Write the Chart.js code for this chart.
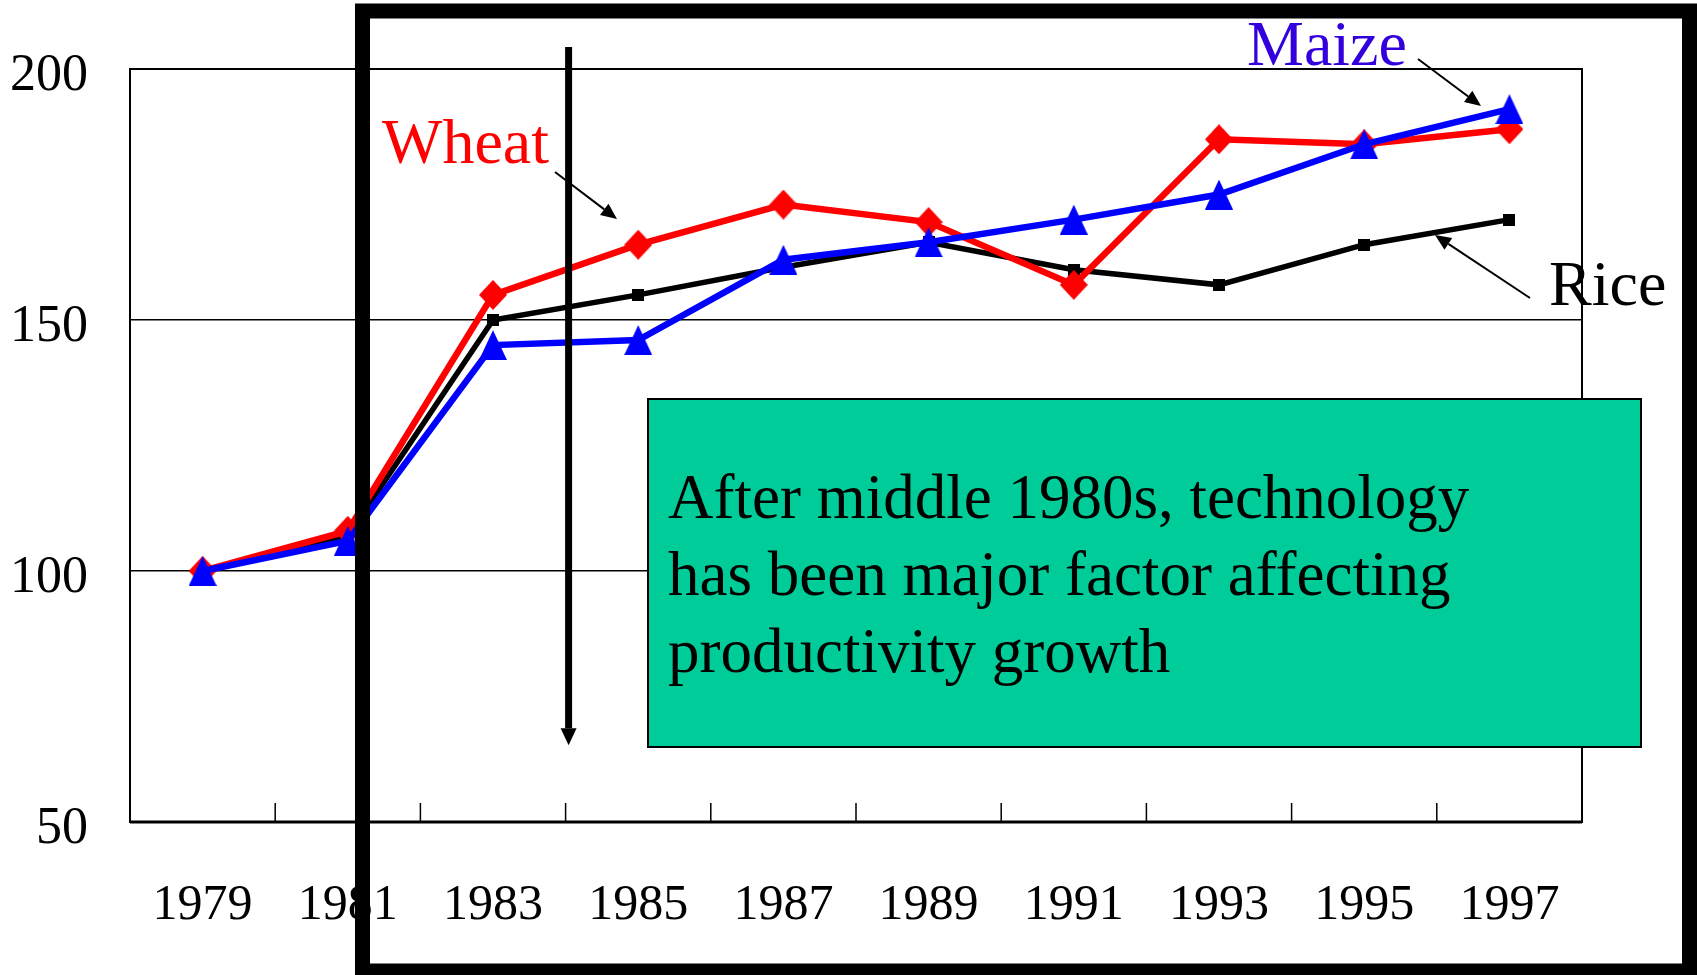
<!DOCTYPE html>
<html>
<head>
<meta charset="utf-8">
<title>Wheat, Rice, Maize productivity</title>
<script src="https://cdn.jsdelivr.net/npm/chart.js@4/dist/chart.umd.min.js"></script>
<style>
  html, body { margin: 0; padding: 0; background: #fff; }
  canvas { display: block; }
</style>
</head>
<body>
<canvas id="chart" width="1697" height="975"></canvas>
<script>
// index, 1979 = 100
const years = ['1979', '1981', '1983', '1985', '1987', '1989', '1991', '1993', '1995', '1997'];
const wheat = [100, 108, 155, 165, 173, 169.5, 157, 186, 185, 188];
const rice = [100, 107, 150, 155, 160.5, 165.5, 160, 157, 165, 170];
const maize = [100, 106, 145, 146, 162, 165.5, 170, 175, 185, 192];
const yTicks = [50, 100, 150, 200];

const serif = "'Liberation Serif', 'Times New Roman', serif";

// small canvases used as point markers, so the shapes are centred on the point
function marker(w, h, color, shape) {
    const c = document.createElement('canvas');
    c.width = w;
    c.height = h;
    const g = c.getContext('2d');
    g.fillStyle = color;
    g.beginPath();
    shape(g, w, h);
    g.fill();
    return c;
}
const triangle = marker(28, 30, '#0000ff', (g, w, h) => {
    g.moveTo(w / 2, 0); g.lineTo(w, h); g.lineTo(0, h); g.closePath();
});
const diamond = marker(28, 30, '#ff0000', (g, w, h) => {
    g.moveTo(w / 2, 0); g.lineTo(w, h / 2); g.lineTo(w / 2, h); g.lineTo(0, h / 2); g.closePath();
});
const square = marker(12, 12, '#000000', (g, w, h) => {
    g.rect(0, 0, w, h);
});

function arrow(ctx, x1, y1, x2, y2, lw, headLen, headHalf) {
    const a = Math.atan2(y2 - y1, x2 - x1);
    const bx = x2 - Math.cos(a) * headLen;
    const by = y2 - Math.sin(a) * headLen;
    ctx.save();
    ctx.strokeStyle = '#000';
    ctx.fillStyle = '#000';
    ctx.lineWidth = lw;
    ctx.beginPath();
    ctx.moveTo(x1, y1);
    ctx.lineTo(bx, by);
    ctx.stroke();
    ctx.beginPath();
    ctx.moveTo(x2, y2);
    ctx.lineTo(bx + Math.sin(a) * headHalf, by - Math.cos(a) * headHalf);
    ctx.lineTo(bx - Math.sin(a) * headHalf, by + Math.cos(a) * headHalf);
    ctx.closePath();
    ctx.fill();
    ctx.restore();
}

// plot box and the short inner tick marks between the years
const plotFrame = {
    id: 'plotFrame',
    beforeDatasetsDraw(chart) {
        const { ctx, chartArea: a, scales: { x } } = chart;
        ctx.save();
        ctx.strokeStyle = '#000';
        ctx.lineWidth = 2;
        ctx.strokeRect(a.left, a.top, a.right - a.left, a.bottom - a.top);
        ctx.lineWidth = 3;
        ctx.beginPath();
        ctx.moveTo(a.left, a.bottom);
        ctx.lineTo(a.right, a.bottom);
        ctx.stroke();
        ctx.lineWidth = 1.5;
        ctx.beginPath();
        for (let i = 1; i < years.length; i++) {
            const px = (x.getPixelForValue(i - 1) + x.getPixelForValue(i)) / 2;
            ctx.moveTo(px, a.bottom);
            ctx.lineTo(px, a.bottom - 19);
        }
        ctx.stroke();
        ctx.restore();
    }
};

const notes = {
    id: 'notes',
    afterDraw(chart) {
        const { ctx, scales: { x, y } } = chart;
        ctx.save();

        // text box
        ctx.fillStyle = '#00cc99';
        ctx.fillRect(648, 399, 993, 348);
        ctx.strokeStyle = '#000';
        ctx.lineWidth = 2;
        ctx.strokeRect(648, 399, 993, 348);
        ctx.fillStyle = '#000';
        ctx.font = '63px ' + serif;
        ctx.textBaseline = 'alphabetic';
        ctx.fillText('After middle 1980s, technology', 668, 518);
        ctx.fillText('has been major factor affecting', 668, 595);
        ctx.fillText('productivity growth', 668, 672);

        // vertical arrow between 1983 and 1985
        const ax = (x.getPixelForValue(2) + x.getPixelForValue(3)) / 2 + 3;
        arrow(ctx, ax, 47, ax, y.getPixelForValue(65.3), 7, 17, 8);

        // series labels
        ctx.font = '64px ' + serif;
        ctx.fillStyle = '#ff0000';
        ctx.fillText('Wheat', 382, 163);
        ctx.fillStyle = '#3300dd';
        ctx.fillText('Maize', 1247, 65);
        ctx.fillStyle = '#000';
        ctx.fillText('Rice', 1549, 305);
        arrow(ctx, 555, 172, 617, 219, 2, 16, 7);
        arrow(ctx, 1418, 59, 1481, 106, 2, 16, 7);
        arrow(ctx, 1530, 298, 1435, 235, 2, 16, 7);

        // outer highlight frame
        ctx.strokeStyle = '#000';
        ctx.lineWidth = 15;
        ctx.strokeRect(362.5, 11, 1327, 960);
        ctx.restore();
    }
};

new Chart(document.getElementById('chart').getContext('2d'), {
    type: 'line',
    data: {
        labels: years,
        datasets: [
            {
                label: 'Maize', data: maize, order: 0,
                borderColor: '#0000ff', borderWidth: 6.5,
                pointStyle: triangle, pointRadius: 15
            },
            {
                label: 'Wheat', data: wheat, order: 1,
                borderColor: '#ff0000', borderWidth: 6.5,
                pointStyle: diamond, pointRadius: 15
            },
            {
                label: 'Rice', data: rice, order: 2,
                borderColor: '#000000', borderWidth: 5.5,
                pointStyle: square, pointRadius: 7
            }
        ]
    },
    options: {
        responsive: false,
        animation: false,
        events: [],
        layout: { padding: { top: 69, right: 115, left: 0, bottom: 0 } },
        plugins: {
            legend: { display: false },
            tooltip: { enabled: false }
        },
        elements: { line: { tension: 0, fill: false } },
        scales: {
            x: {
                offset: true,
                grid: { display: false },
                border: { display: false },
                ticks: {
                    color: '#000',
                    font: { family: serif, size: 50 },
                    padding: 46,
                    maxRotation: 0,
                    autoSkip: false
                },
                afterFit(scale) { scale.height = 153; }
            },
            y: {
                min: 50,
                max: 200,
                afterBuildTicks(scale) { scale.ticks = yTicks.map(v => ({ value: v })); },
                grid: { color: '#000', lineWidth: 1.5, drawTicks: false },
                border: { display: false },
                ticks: {
                    color: '#000',
                    font: { family: serif, size: 52 },
                    padding: 42,
                    labelOffset: 7
                },
                afterFit(scale) {
                    scale.width = 130;
                    scale.paddingTop = 0;
                    scale.paddingBottom = 0;
                }
            }
        }
    },
    plugins: [plotFrame, notes]
});
</script>
</body>
</html>
